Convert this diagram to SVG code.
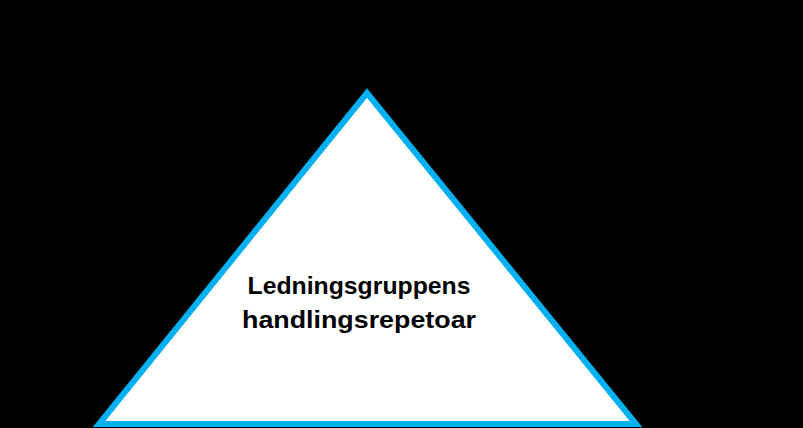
<svg xmlns="http://www.w3.org/2000/svg" width="803" height="428" viewBox="0 0 803 428">
<style>
.lbl{font-family:"Liberation Sans",Arial,sans-serif;font-weight:bold;font-size:24px;fill:#000;text-anchor:middle}
</style>
<rect x="0" y="0" width="803" height="428" fill="#000"/>
<g id="pyramid">
<polygon points="367,93 99,424 636,424" fill="#fff" stroke="#00B0F0" stroke-width="6" stroke-linejoin="miter"/>
<text class="lbl" x="359" y="294" textLength="223" lengthAdjust="spacingAndGlyphs">Ledningsgruppens</text>
<text class="lbl" x="359" y="328" textLength="234" lengthAdjust="spacingAndGlyphs">handlingsrepetoar</text>
</g>
</svg>
